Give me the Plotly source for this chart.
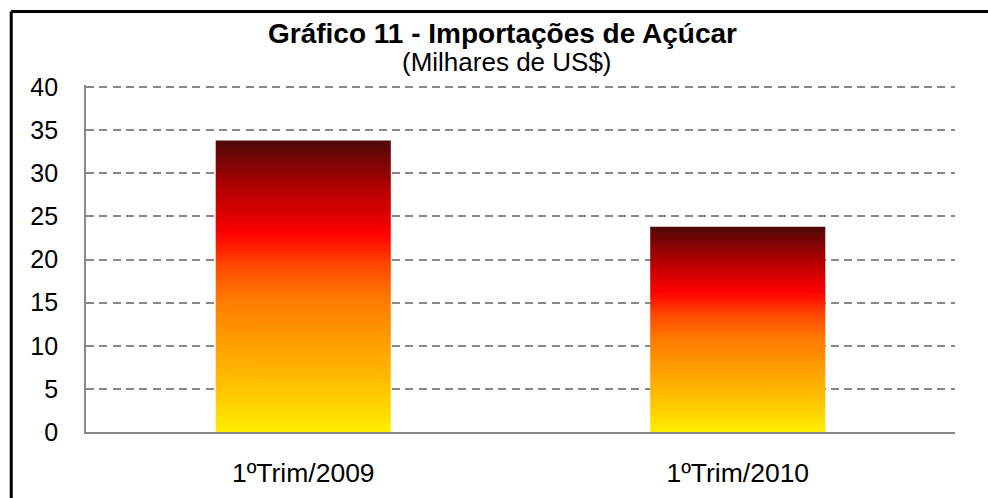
import plotly.graph_objects as go

categories = ["1ºTrim/2009", "1ºTrim/2010"]
values = [33.8, 23.8]
y_ticks = [0, 5, 10, 15, 20, 25, 30, 35, 40]
title_text = "Gráfico 11 - Importações de Açúcar"
subtitle_text = "(Milhares de US$)"

gradient = [
    [0.0, "#ffee00"], [0.15, "#ffc400"], [0.30, "#ffa000"], [0.45, "#ff7c00"],
    [0.58, "#ff4400"], [0.68, "#ff0000"], [0.84, "#b00000"], [1.0, "#4f0808"],
]
bar_width = 0.403

fig = go.Figure()
for i, (cat, v) in enumerate(zip(categories, values)):
    x0, x1 = i - bar_width / 2, i + bar_width / 2
    fig.add_trace(go.Scatter(
        x=[x0, x1, x1, x0, x0], y=[0, 0, v, v, 0],
        mode="none", fill="toself", name=cat,
        fillgradient=dict(type="vertical", colorscale=gradient, start=0, stop=v),
        hoverinfo="text", text=f"{cat}: {v}", showlegend=False,
    ))

font_family = "Liberation Sans, Arial, sans-serif"
y_top = 40.25
unit_px = 345 / 40
plot_h = 345 + (y_top - 40) * unit_px
top_m = 432 - plot_h

def py(px):
    return (432 - px) / plot_h

fig.update_layout(
    width=988, height=498,
    margin=dict(l=85.5, r=33, t=top_m, b=66, autoexpand=False),
    paper_bgcolor="white", plot_bgcolor="white",
    font=dict(family=font_family, color="black"),
    showlegend=False,
    xaxis=dict(
        range=[-0.5, 1.5], tickmode="array", tickvals=list(range(len(categories))),
        ticktext=categories, showgrid=False, zeroline=False,
        showline=True, linecolor="#888888", linewidth=1.7,
        ticks="", tickfont=dict(size=26.5, family=font_family, color="black"),
        ticklabelstandoff=16, fixedrange=True,
    ),
    yaxis=dict(
        range=[0, y_top], tickmode="array", tickvals=y_ticks,
        showgrid=True, gridcolor="#888888", gridwidth=1.5, griddash="8px,5.3px",
        zeroline=False, showline=True, linecolor="#888888", linewidth=1.7,
        ticks="", tickfont=dict(size=25, family=font_family, color="black"),
        ticklabelstandoff=21, fixedrange=True,
    ),
    annotations=[
        dict(text=f"<b>{title_text}</b>", x=0.479, y=py(33), xref="paper", yref="paper",
             xanchor="center", yanchor="middle", showarrow=False,
             font=dict(size=28, family=font_family, color="black")),
        dict(text=subtitle_text, x=0.484, y=py(62), xref="paper", yref="paper",
             xanchor="center", yanchor="middle", showarrow=False,
             font=dict(size=26, family=font_family, color="black")),
    ],
    shapes=[
        dict(type="line", xref="paper", yref="paper",
             x0=(10.7 - 85.5) / 869.5, x1=1.2, y0=py(11.3), y1=py(11.3),
             line=dict(color="black", width=3), layer="above"),
        dict(type="line", xref="paper", yref="paper",
             x0=(10.7 - 85.5) / 869.5, x1=(10.7 - 85.5) / 869.5, y0=-0.4, y1=py(11.3),
             line=dict(color="black", width=3), layer="above"),
    ],
)
fig.write_html(
    "out.html",
    config={"displayModeBar": False},
    post_script="document.body.style.margin='0';document.body.style.overflow='hidden';",
)
